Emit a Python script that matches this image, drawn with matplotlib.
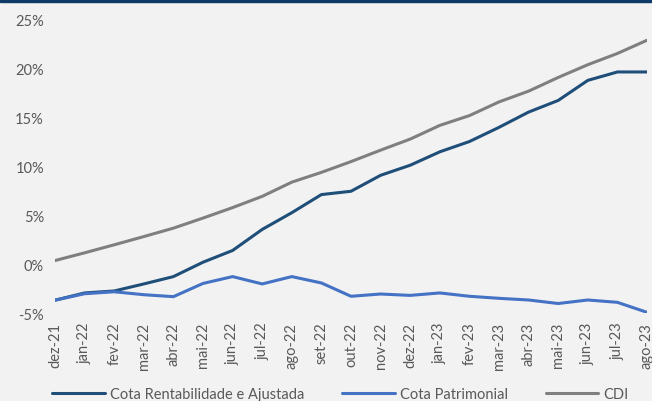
import matplotlib
matplotlib.use("Agg")
import matplotlib.pyplot as plt
from matplotlib.patches import Rectangle

plt.rcParams['font.family'] = ['Lato', 'DejaVu Sans']

meses = ["dez-21", "jan-22", "fev-22", "mar-22", "abr-22", "mai-22", "jun-22",
         "jul-22", "ago-22", "set-22", "out-22", "nov-22", "dez-22", "jan-23",
         "fev-23", "mar-23", "abr-23", "mai-23", "jun-23", "jul-23", "ago-23"]

cota_rentab = [-3.66, -2.92, -2.72, -2.0, -1.25, 0.22, 1.42, 3.57, 5.28, 7.13,
               7.47, 9.1, 10.13, 11.5, 12.55, 14.0, 15.56, 16.75, 18.8, 19.66, 19.66]
cota_patrim = [-3.66, -3.0, -2.8, -3.1, -3.3, -1.95, -1.25, -2.0, -1.25, -1.9,
               -3.26, -3.03, -3.17, -2.92, -3.26, -3.47, -3.64, -4.0, -3.64, -3.88, -4.9]
cdi = [0.39, 1.18, 2.0, 2.84, 3.7, 4.73, 5.8, 6.95, 8.4, 9.4, 10.5, 11.67, 12.8,
       14.2, 15.2, 16.6, 17.7, 19.1, 20.4, 21.55, 22.9]

yticks = [-5, 0, 5, 10, 15, 20, 25]
ytick_labels = ["-5%", "0%", "5%", "10%", "15%", "20%", "25%"]

bg = "#f2f2f2"
txt = "#595959"

fig = plt.figure(figsize=(6.52, 4.02), dpi=100, facecolor=bg)
ax = fig.add_axes([55/652, (402-314.3)/402, (647-55)/652, (314.3-20.7)/402])
ax.set_facecolor(bg)

x = list(range(len(meses)))
l1, = ax.plot(x, cota_rentab, color="#1f4e79", lw=2.2, label="Cota Rentabilidade e Ajustada",
              solid_capstyle="round", solid_joinstyle="round")
l2, = ax.plot(x, cota_patrim, color="#4472c4", lw=2.2, label="Cota Patrimonial",
              solid_capstyle="round", solid_joinstyle="round")
l3, = ax.plot(x, cdi, color="#7f7f7f", lw=2.2, label="CDI",
              solid_capstyle="round", solid_joinstyle="round")

ax.set_xlim(0, len(meses) - 1)
ax.set_ylim(-5, 25)
ax.set_yticks(yticks)
ax.set_yticklabels(ytick_labels)
ax.set_xticks(x)
ax.set_xticklabels(meses, rotation=90)
for s in ax.spines.values():
    s.set_visible(False)
ax.tick_params(axis='both', length=0, colors=txt, labelsize=10.5)
ax.tick_params(axis='y', pad=8)
ax.tick_params(axis='x', pad=6)

leg = fig.legend(handles=[l1, l2, l3], loc='center', ncol=3,
                 bbox_to_anchor=(340.5/652, (402-395)/402), frameon=False,
                 handlelength=3.6, handletextpad=0.35, columnspacing=2.6,
                 fontsize=10.5)
for t in leg.get_texts():
    t.set_color(txt)

fig.add_artist(Rectangle((0, 1 - 3/402), 1, 3/402, transform=fig.transFigure,
                         color="#0e3a68", zorder=10))

fig.savefig("out.png", dpi=100, facecolor=bg)
